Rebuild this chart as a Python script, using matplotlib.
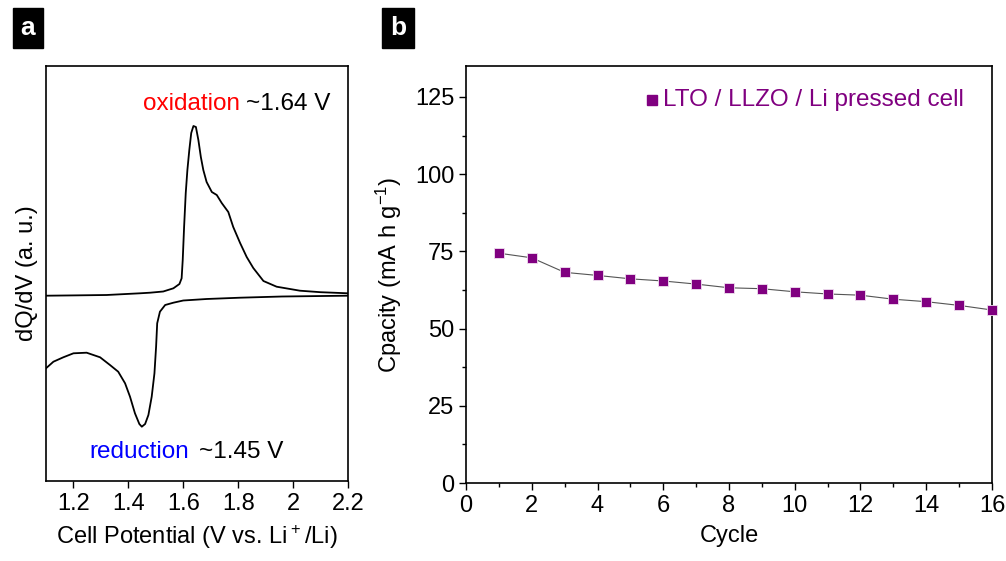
import matplotlib
matplotlib.use('Agg')
import matplotlib.pyplot as plt
from matplotlib.ticker import MultipleLocator

plt.rcParams['font.family'] = ['Liberation Sans', 'DejaVu Sans']
plt.rcParams['mathtext.default'] = 'regular'

# Panel a: dQ/dV curves (arbitrary units)
ox_v = [1.10, 1.20, 1.321, 1.442, 1.479, 1.527, 1.564, 1.586, 1.594, 1.598, 1.603,
        1.609, 1.615, 1.622, 1.629, 1.637, 1.646, 1.655, 1.664, 1.673, 1.685,
        1.704, 1.722, 1.740, 1.764, 1.782, 1.807, 1.831, 1.855, 1.892, 1.940,
        2.025, 2.10, 2.20]
ox_q = [0.3, 0.6, 1.0, 2.7, 3.3, 4.5, 7.7, 12, 17.7, 36, 69,
        103, 126, 146, 163, 170, 169, 156, 139, 126, 114,
        104, 101, 93, 84, 69, 53, 39, 28, 15, 9.3,
        5.3, 3.8, 2.7]
red_v = [1.10, 1.127, 1.163, 1.20, 1.248, 1.297, 1.333, 1.363, 1.388, 1.406, 1.424,
         1.440, 1.449, 1.461, 1.473, 1.485, 1.495, 1.501, 1.505, 1.515, 1.534,
         1.564, 1.600, 1.685, 1.807, 1.96, 2.20]
red_q = [-72.3, -65.7, -61.3, -57.3, -56.7, -61.3, -69, -75.7, -87.3, -100.7, -117.3,
         -128, -130.7, -128, -119, -100.7, -77.3, -50.7, -27.3, -15.7, -9,
         -6.7, -4.5, -3, -1.7, -0.5, 0.3]

# Panel b: capacity vs cycle
cycles = list(range(1, 17))
capacity = [74.4, 72.9, 68.2, 67.2, 66.1, 65.4, 64.4, 63.2, 62.9, 61.9,
            61.2, 60.8, 59.5, 58.7, 57.5, 56.0]

W, H = 1006, 561
fig = plt.figure(figsize=(W / 100, H / 100), dpi=100)

ax1 = fig.add_axes([46 / W, 1 - 481 / H, 302 / W, 415 / H])
ax2 = fig.add_axes([466 / W, 1 - 483 / H, 526 / W, 417 / H])

# ---- panel a ----
ax1.plot(ox_v, ox_q, color='black', lw=1.3)
ax1.plot(red_v, red_q, color='black', lw=1.3)
ax1.set_xlim(1.1, 2.2)
ax1.set_ylim(-185, 230)
ax1.set_xticks([1.2, 1.4, 1.6, 1.8, 2.0, 2.2])
ax1.set_xticklabels(['1.2', '1.4', '1.6', '1.8', '2', '2.2'])
ax1.set_yticks([])
ax1.set_xlabel('Cell Potential (V vs. Li$^+$/Li)', fontsize=17, labelpad=6)
ax1.set_ylabel('dQ/dV (a. u.)', fontsize=17, labelpad=6)
ax1.text(1.805, 192, 'oxidation', color='red', fontsize=17.5, ha='right', va='center')
ax1.text(1.83, 192, '~1.64 V', color='black', fontsize=17.5, ha='left', va='center')
ax1.text(1.622, -156, 'reduction', color='blue', fontsize=17.5, ha='right', va='center')
ax1.text(1.658, -156, '~1.45 V', color='black', fontsize=17.5, ha='left', va='center')

# ---- panel b ----
ax2.plot(cycles, capacity, color='#555555', lw=0.8, marker='s', markersize=7,
         markerfacecolor='#800080', markeredgecolor='#f0e0f0', markeredgewidth=0.6,
         clip_on=False, zorder=3)
ax2.set_xlim(0, 16)
ax2.set_ylim(0, 135)
ax2.xaxis.set_major_locator(MultipleLocator(2))
ax2.xaxis.set_minor_locator(MultipleLocator(1))
ax2.yaxis.set_major_locator(MultipleLocator(25))
ax2.yaxis.set_minor_locator(MultipleLocator(12.5))
ax2.set_xlabel('Cycle', fontsize=17, labelpad=6)
ax2.set_ylabel('Cpacity (mA h g$^{-1}$)', fontsize=17, labelpad=8)
ax2.plot([5.66], [124], marker='s', color='#800080', markersize=6.5, ls='none')
ax2.text(6.0, 124, 'LTO / LLZO / Li pressed cell', color='#800080', fontsize=17.5,
         ha='left', va='center')

for ax in (ax1, ax2):
    ax.tick_params(axis='both', which='major', direction='out', length=5, width=1,
                   labelsize=17, top=False, right=False)
    ax.tick_params(axis='both', which='minor', direction='out', length=3, width=1,
                   top=False, right=False)
    for s in ax.spines.values():
        s.set_linewidth(1.2)

# panel letters
for x0, letter in ((9, 'a'), (379, 'b')):
    fig.text((x0 + 19) / W, 1 - 28 / H, letter, color='white', fontsize=19,
             fontweight='bold', ha='center', va='center',
             bbox=dict(boxstyle='square,pad=0.3', facecolor='black', edgecolor='black'))

fig.savefig('out.png', dpi=100)
